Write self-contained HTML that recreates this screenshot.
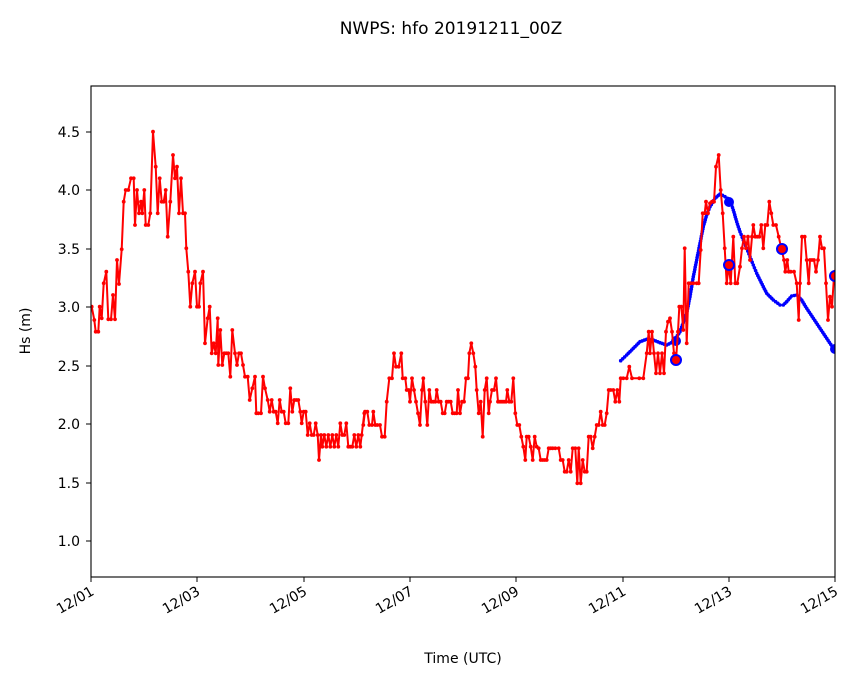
<!DOCTYPE html><html><head><style>body{margin:0;background:#fff}svg{display:block;font-family:"DejaVu Sans","Liberation Sans",sans-serif}</style></head><body>
<svg id="s" width="853" height="681" xmlns="http://www.w3.org/2000/svg">
<rect width="853" height="681" fill="#fff"/>
<text x="451" y="34" font-size="17" text-anchor="middle">NWPS: hfo 20191211_00Z</text>
<g id="plot"></g>
<rect x="91" y="86" width="744" height="491" fill="none" stroke="#000" stroke-width="1.1"/>
<g font-size="14" text-anchor="end">
<text x="80" y="546">1.0</text><text x="80" y="488">1.5</text><text x="80" y="429">2.0</text><text x="80" y="371">2.5</text><text x="80" y="312">3.0</text><text x="80" y="254">3.5</text><text x="80" y="195">4.0</text><text x="80" y="137">4.5</text>
</g>
<g stroke="#000"><line x1="86" x2="91" y1="541" y2="541"/><line x1="86" x2="91" y1="483" y2="483"/><line x1="86" x2="91" y1="424" y2="424"/><line x1="86" x2="91" y1="366" y2="366"/><line x1="86" x2="91" y1="307" y2="307"/><line x1="86" x2="91" y1="249" y2="249"/><line x1="86" x2="91" y1="190" y2="190"/><line x1="86" x2="91" y1="132" y2="132"/>
<line x1="91" x2="91" y1="577" y2="582"/><line x1="197" x2="197" y1="577" y2="582"/><line x1="304" x2="304" y1="577" y2="582"/><line x1="410" x2="410" y1="577" y2="582"/><line x1="516" x2="516" y1="577" y2="582"/><line x1="623" x2="623" y1="577" y2="582"/><line x1="729" x2="729" y1="577" y2="582"/><line x1="835" x2="835" y1="577" y2="582"/></g>
<g font-size="14" text-anchor="end">
<text transform="translate(95,594) rotate(-30)">12/01</text><text transform="translate(201,594) rotate(-30)">12/03</text><text transform="translate(308,594) rotate(-30)">12/05</text><text transform="translate(414,594) rotate(-30)">12/07</text><text transform="translate(520,594) rotate(-30)">12/09</text><text transform="translate(627,594) rotate(-30)">12/11</text><text transform="translate(733,594) rotate(-30)">12/13</text><text transform="translate(839,594) rotate(-30)">12/15</text>
</g>
<text x="463" y="663" font-size="14" text-anchor="middle">Time (UTC)</text>
<text transform="translate(30,331) rotate(-90)" font-size="14" text-anchor="middle">Hs (m)</text>
</svg>
<script>
var z1=[[20,560],[28,600],[32,635],[40,635],[44,560],[50,595],[56,490],[64,455],[70,598],[78,598],[84,525],[90,598],[96,420],[102,492],[110,388],[116,245],[122,210],[130,210],[138,175],[146,175],[150,315],[156,210],[162,280],[168,245],[172,280],[178,210],[182,315],[190,315],[196,280],[204,35],[212,140],[218,280],[224,175],[230,245],[236,245],[242,210],[248,350],[256,245],[264,105],[270,175],[276,140],[282,280],[288,175],[294,280],[300,280],[304,385],[310,455],[316,560],[322,490],[330,455],[336,560],[342,560],[346,490],[354,455],[360,670],[368,595],[374,560],[380,700],[386,670],[392,700],[398,595],[400,735],[406,630],[412,735],[418,700],[424,700],[430,700],[436,770],[442,630],[450,700],[456,735],[462,700],[468,700],[474,735],[480,770],[488,770],[494,840],[502,805],[510,770],[514,880],[520,880],[528,880],[534,770],[540,805],[548,840],[554,875],[560,840],[566,875],[572,875],[578,910],[584,840],[590,875],[596,875],[602,910],[610,910],[616,805],[622,875],[628,840],[634,840],[640,840],[646,875],[650,910],[656,875],[662,875],[668,945],[674,910],[680,945],[686,945],[692,910],[698,945],[702,1020],[708,945],[712,980],[718,945],[724,980],[730,945],[736,980],[742,945],[748,980],[754,945],[760,980],[766,910],[772,945],[778,945],[784,910],[790,980],[796,980],[802,980],[808,945],[814,980],[820,945],[826,980],[830,945],[838,880]];
var z2=[[10,285],[15,245],[22,245],[28,285],[36,285],[40,245],[46,285],[52,285],[60,285],[66,320],[74,320],[80,215],[88,145],[96,145],[102,70],[108,110],[116,110],[124,70],[128,145],[136,145],[140,180],[146,180],[150,215],[156,145],[162,180],[168,215],[174,250],[180,285],[186,180],[190,145],[196,215],[202,285],[208,180],[214,215],[220,215],[226,215],[230,180],[236,215],[242,215],[248,250],[254,250],[260,215],[266,215],[272,215],[278,250],[284,250],[290,250],[294,180],[300,250],[306,215],[312,215],[318,145],[324,145],[328,70],[334,40],[340,70],[346,110],[350,180],[356,250],[362,215],[368,320],[374,180],[380,145],[386,250],[390,215],[396,180],[402,180],[408,145],[414,215],[420,215],[426,215],[432,215],[438,215],[442,180],[448,215],[454,215],[460,145],[466,250],[472,285],[478,285],[484,320],[490,350],[496,390],[500,320],[506,320],[512,350],[518,390],[524,320],[530,350],[536,355],[542,390],[548,390],[554,390],[560,390],[566,355],[572,355],[578,355],[586,355],[596,355],[602,390],[608,390],[614,425],[620,425],[626,390],[632,425],[638,355],[646,355],[652,460],[656,355],[662,460],[668,390],[674,425],[680,425],[686,320],[692,320],[698,355],[704,320],[710,285],[716,285],[722,245],[728,285],[734,285],[740,250],[746,180],[752,180],[760,180],[766,215],[772,180],[778,215]];
var z3=[[62,715],[70,715],[80,715],[88,680],[96,715],[118,715],[130,715],[140,640],[146,575],[150,640],[156,575],[162,640],[168,700],[174,640],[180,700],[186,640],[192,700],[198,575],[204,545],[210,535],[216,575],[222,640],[228,660],[234,575],[238,500],[244,500],[250,570],[254,325],[260,610],[266,430],[272,430],[280,430],[290,430],[296,430],[302,330],[308,220],[314,220],[318,185],[324,220],[330,190],[336,185],[342,185],[348,80],[356,45],[362,150],[368,220],[374,325],[380,430],[386,375],[392,430],[400,290],[406,430],[412,430],[420,380],[426,325],[432,290],[438,325],[444,290],[450,360],[456,290],[460,255],[466,290],[472,290],[478,290],[484,255],[490,325],[496,255],[502,255],[508,185],[514,220],[520,255],[528,255],[536,290],[544,325],[552,360],[556,395],[562,360],[566,395],[572,395],[582,395],[590,430],[596,540],[600,430],[606,290],[614,290],[620,360],[626,430],[630,360],[636,360],[642,360],[648,395],[654,360],[660,290],[666,325],[672,325],[678,430],[684,540],[690,470],[696,500],[702,410],[705,395]];
var bz=[[62,662],[80,645],[100,625],[120,605],[140,598],[160,600],[180,608],[200,615],[220,605],[240,575],[260,520],[270,470],[280,410],[290,360],[300,310],[310,260],[320,225],[330,200],[345,175],[360,162],[375,170],[390,180],[400,210],[410,245],[420,275],[430,300],[440,325],[450,350],[460,375],[470,400],[480,420],[490,440],[500,460],[520,480],[540,495],[550,495],[560,485],[575,468],[590,465],[605,480],[620,505],[640,535],[660,565],[680,595],[700,625],[705,630]];
function tr(a,ox,oy){return a.map(p=>[ox+p[0]/3,oy+p[1]/3]);}
var red=tr(z1,85,120).concat(tr(z2,360,330)).concat(tr(z3,600,140));
var blue=[];var b=tr(bz,600,140);
for(var i=0;i<b.length-1;i++){var n=Math.max(1,Math.round(Math.hypot(b[i+1][0]-b[i][0],b[i+1][1]-b[i][1])/2.6));for(var k=0;k<n;k++)blue.push([b[i][0]+(b[i+1][0]-b[i][0])*k/n,b[i][1]+(b[i+1][1]-b[i][1])*k/n]);}
blue.push(b[b.length-1]);
var h='<defs><clipPath id="c"><rect x="91" y="86" width="744" height="491"/></clipPath></defs><g clip-path="url(#c)">';
blue.forEach(p=>{h+='<circle cx="'+p[0].toFixed(1)+'" cy="'+p[1].toFixed(1)+'" r="1.8" fill="#0000ff"/>';});
[[676,341],[729,202],[835,349]].forEach(p=>{h+='<circle cx="'+p[0]+'" cy="'+p[1]+'" r="5" fill="#0000ff"/>';});
h+='<polyline fill="none" stroke="#ff0000" stroke-width="2" stroke-linejoin="round" points="'+red.map(p=>p[0].toFixed(1)+','+p[1].toFixed(1)).join(' ')+'"/>';
red.forEach(p=>{h+='<circle cx="'+p[0].toFixed(1)+'" cy="'+p[1].toFixed(1)+'" r="1.9" fill="#ff0000"/>';});
[[676,360],[729,265],[782,249],[835,276]].forEach(p=>{h+='<circle cx="'+p[0]+'" cy="'+p[1]+'" r="5" fill="#ff0000" stroke="#0000ff" stroke-width="2"/>';});
h+='</g>';
document.getElementById('plot').innerHTML=h;
</script>
</body></html>
